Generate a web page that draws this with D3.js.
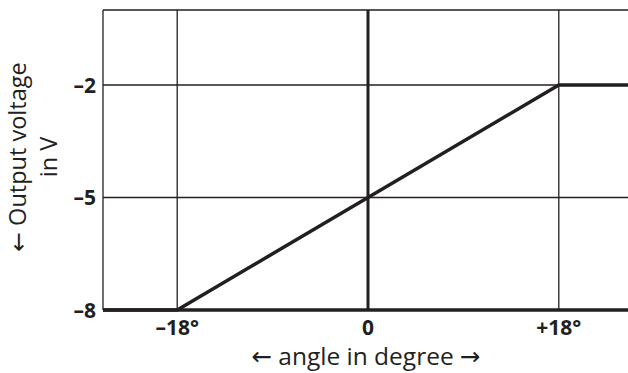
<!DOCTYPE html>
<html>
<head>
<meta charset="utf-8">
<script src="https://cdn.jsdelivr.net/npm/d3@7"></script>
<style>
  body { margin: 0; background: #fff; }
  svg { display: block; font-family: "Open Sans", "DejaVu Sans", sans-serif; }
</style>
</head>
<body>
<div id="chart"></div>
<script>
// curve points: angle (deg) -> output voltage (V)
const angles = [-25, -18, 18, 25];
const voltages = [-8, -8, -2, -2];
const xTicks = [-18, 0, 18];
const xTickLabels = ["\u201318\u00b0", "0", "+18\u00b0"];
const yTicks = [-8, -5, -2];
const yTickLabels = ["\u20138", "\u20135", "\u20132"];

const W = 628, H = 373;
const svg = d3.select("#chart").append("svg").attr("width", W).attr("height", H);

const x = d3.scaleLinear().domain([-25, 25]).range([103, 633]);
const y = d3.scaleLinear().domain([-8, 0]).range([310, 10]);
const ink = "#231f20";

// grid
svg.selectAll(".gx").data(xTicks.filter(d => d !== 0)).join("line")
  .attr("x1", d => x(d)).attr("x2", d => x(d))
  .attr("y1", y(0)).attr("y2", y(-8))
  .attr("stroke", ink).attr("stroke-width", 1.3);
svg.selectAll(".gy").data(yTicks.concat([0])).join("line")
  .attr("x1", x(-25)).attr("x2", W)
  .attr("y1", d => y(d)).attr("y2", d => y(d))
  .attr("stroke", ink).attr("stroke-width", 1.3);
// left border
svg.append("line").attr("x1", x(-25)).attr("x2", x(-25))
  .attr("y1", y(0)).attr("y2", y(-8))
  .attr("stroke", ink).attr("stroke-width", 1.3);
// bold zero axis
svg.append("line").attr("x1", x(0)).attr("x2", x(0))
  .attr("y1", y(0)).attr("y2", y(-8))
  .attr("stroke", ink).attr("stroke-width", 3);
// bold base line
svg.append("line").attr("x1", x(-25)).attr("x2", W)
  .attr("y1", y(-8)).attr("y2", y(-8))
  .attr("stroke", ink).attr("stroke-width", 3.5);

// curve
const line = d3.line().x((d, i) => x(angles[i])).y(d => y(d));
svg.append("path").datum(voltages).attr("d", line)
  .attr("fill", "none").attr("stroke", ink).attr("stroke-width", 3.5)
  .attr("stroke-linejoin", "miter");

// tick labels
svg.selectAll(".xt").data(xTicks).join("text")
  .attr("x", d => x(d)).attr("y", 335)
  .attr("text-anchor", "middle").attr("font-size", 21).attr("font-weight", "bold")
  .attr("fill", ink).text((d, i) => xTickLabels[i]);
svg.selectAll(".yt").data(yTicks).join("text")
  .attr("x", 96).attr("y", d => y(d) + 7.5)
  .attr("text-anchor", "end").attr("font-size", 21).attr("font-weight", "bold")
  .attr("fill", ink).text((d, i) => yTickLabels[i]);

// axis titles
svg.append("text").attr("x", 366).attr("y", 365)
  .attr("text-anchor", "middle").attr("font-size", 24.5).attr("fill", ink)
  .text("\u2190 angle in degree \u2192");
const yt = svg.append("text").attr("transform", "translate(26,157) rotate(-90)")
  .attr("text-anchor", "middle").attr("font-size", 23.5).attr("fill", ink);
yt.append("tspan").attr("x", 0).attr("dy", 0).text("\u2190 Output voltage");
yt.append("tspan").attr("x", 0).attr("dy", 31).text("in V");
</script>
</body>
</html>
